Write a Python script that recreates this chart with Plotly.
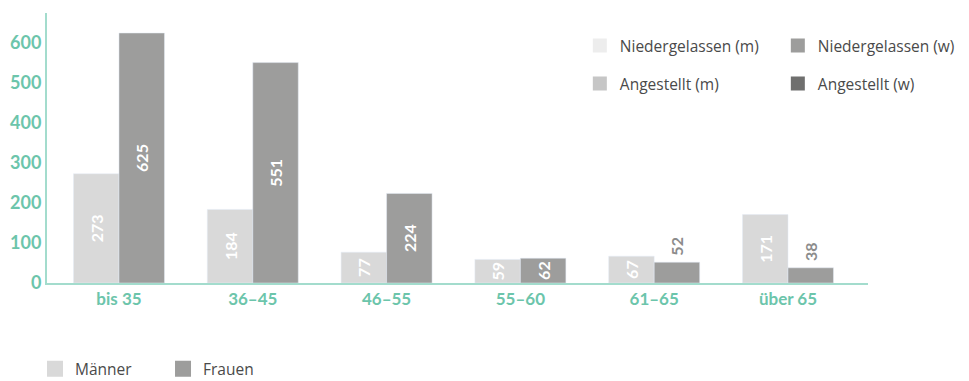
import plotly.graph_objects as go

# Age groups and counts of physicians by sex
age_groups = ["bis 35", "36–45", "46–55", "55–60", "61–65", "über 65"]
maenner = [273, 184, 77, 59, 67, 171]
frauen = [625, 551, 224, 62, 52, 38]

# Secondary legend entries (status by sex)
status_labels = ["Niedergelassen (m)", "Niedergelassen (w)", "Angestellt (m)", "Angestellt (w)"]
status_colors = ["#ededed", "#9d9d9c", "#c6c6c6", "#6f6f6e"]

C_M = "#d9d9d9"
C_F = "#9d9d9c"
TEAL = "#6cc5ab"
TEAL_LINE = "#a3dccd"
TXT = "#4a4a4a"
OUT_TXT = "#8c8c8c"
FONT = "Lato"
LEG_FONT = "Open Sans"
BARGAP = 0.32
MIN_INSIDE = 55  # values below this get their label above the bar

fig = go.Figure()

series = [("Männer", maenner, C_M, -1), ("Frauen", frauen, C_F, 1)]
half = (1 - BARGAP) / 4  # offset of each bar centre from its category centre

for name, vals, col, side in series:
    fig.add_trace(go.Bar(
        x=age_groups, y=vals, name=name, marker_color=col,
        text=[str(v) if v >= MIN_INSIDE else "" for v in vals],
        textposition="inside",
        textangle=-90, insidetextanchor="middle", constraintext="none",
        insidetextfont=dict(color="white", size=16, family=FONT, weight="bold"),
        showlegend=False, cliponaxis=False,
    ))
    # short bars: rotated label sitting above the bar
    for i, v in enumerate(vals):
        if v < MIN_INSIDE:
            fig.add_annotation(
                x=i + side * half, y=v, text=str(v), textangle=-90,
                showarrow=False, yanchor="bottom", xanchor="center", yshift=5,
                font=dict(color=OUT_TXT, size=16, family=FONT, weight="bold"),
            )

# Legend swatches for the sexes (bottom)
for name, col in [("Männer", C_M), ("Frauen", C_F)]:
    fig.add_trace(go.Scatter(
        x=[None], y=[None], mode="markers", name=name,
        marker=dict(symbol="square", size=16, color=col, line=dict(width=0)),
        legend="legend",
    ))

# Legend swatches for status (top right, two rows)
for i, (lab, col) in enumerate(zip(status_labels, status_colors)):
    fig.add_trace(go.Scatter(
        x=[None], y=[None], mode="markers", name=lab,
        marker=dict(symbol="square", size=14, color=col, line=dict(width=0)),
        legend="legend2" if i < 2 else "legend3",
    ))

legend_common = dict(
    orientation="h", bgcolor="rgba(0,0,0,0)", borderwidth=0,
    font=dict(family=LEG_FONT, size=15.5, color=TXT),
    itemsizing="trace", xanchor="left", yanchor="middle",
)

fig.update_layout(
    width=969, height=381,
    margin=dict(l=47, r=101, t=13, b=98, autoexpand=False),
    paper_bgcolor="white", plot_bgcolor="white",
    barmode="group", bargap=BARGAP, bargroupgap=0,
    font=dict(family=FONT, color=TXT),
    xaxis=dict(
        type="category", range=[-0.538, 5.598],
        showgrid=False, zeroline=False,
        showline=True, linecolor=TEAL_LINE, linewidth=2,
        ticks="", tickfont=dict(family=FONT, size=17, color=TEAL, weight="bold"),
        fixedrange=True,
    ),
    yaxis=dict(
        range=[0, 675], tickvals=[0, 100, 200, 300, 400, 500, 600],
        showgrid=False, zeroline=False,
        showline=True, linecolor=TEAL_LINE, linewidth=2,
        ticks="", tickfont=dict(family=FONT, size=18, color=TEAL, weight="bold"),
        fixedrange=True,
    ),
    legend=dict(**legend_common, x=-0.0146, y=-0.319, entrywidth=83, entrywidthmode="pixels"),
    legend2=dict(**legend_common, x=0.649, y=0.878, entrywidth=153, entrywidthmode="pixels"),
    legend3=dict(**legend_common, x=0.649, y=0.737, entrywidth=153, entrywidthmode="pixels"),
)

fig.write_html("out.html")
